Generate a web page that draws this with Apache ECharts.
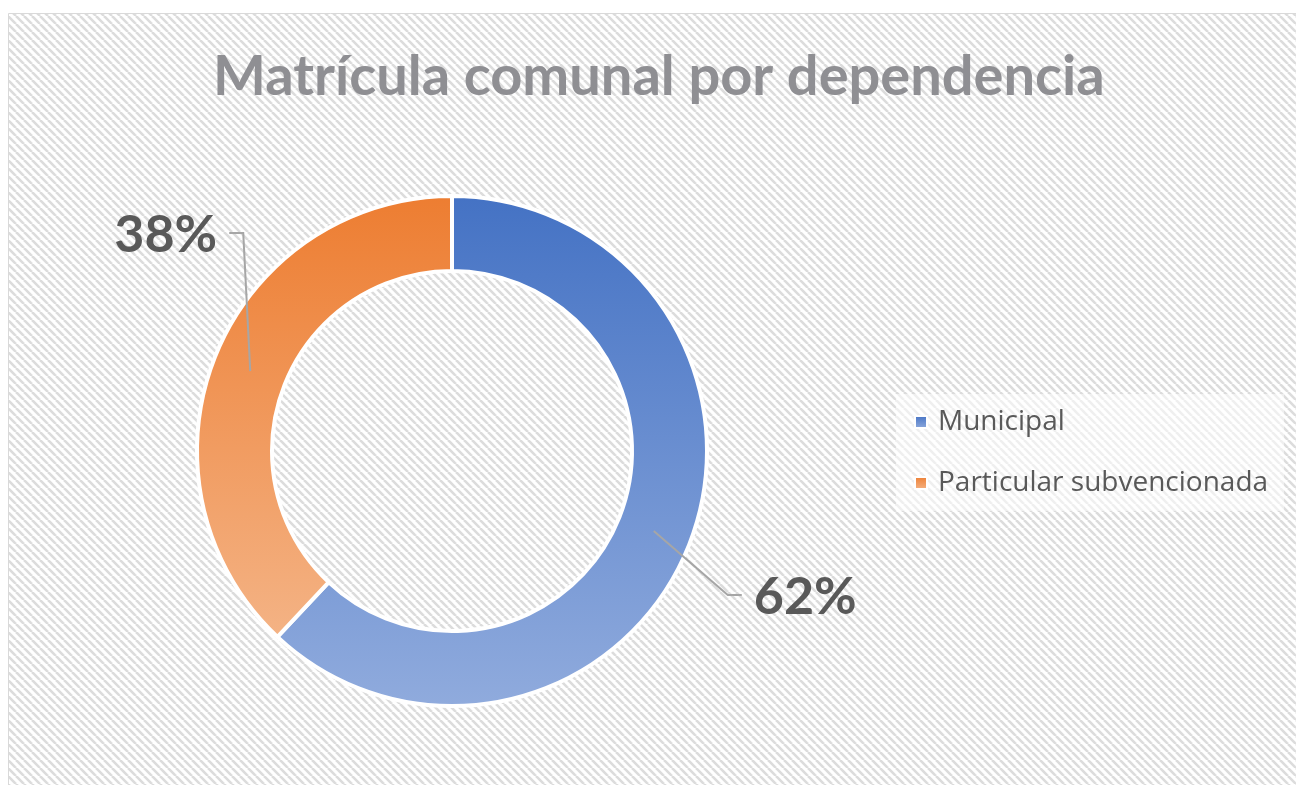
<!DOCTYPE html>
<html>
<head>
<meta charset="utf-8">
<script src="https://cdn.jsdelivr.net/npm/echarts@6/dist/echarts.min.js"></script>
<style>
  html, body { margin: 0; padding: 0; background: #fff; }
  #chart { width: 1296px; height: 785px; }
</style>
</head>
<body>
<div id="chart"></div>
<script>
var titleText = 'Matrícula comunal por dependencia';
var categories = ['Municipal', 'Particular subvencionada'];
var values = [62, 38];

// diagonal hatch used as the plot background
var tile = document.createElement('canvas');
tile.width = 8;
tile.height = 8;
var ctx = tile.getContext('2d');
ctx.fillStyle = '#ffffff';
ctx.fillRect(0, 0, 8, 8);
ctx.strokeStyle = '#dcdcdc';
ctx.lineWidth = 2.6;
[-8, 0, 8].forEach(function (k) {
  ctx.beginPath();
  ctx.moveTo(k, 0);
  ctx.lineTo(k + 8, 8);
  ctx.stroke();
});

var colors = [
  { type: 'linear', x: 0, y: 0, x2: 0, y2: 1, colorStops: [
    { offset: 0, color: '#4472c4' }, { offset: 1, color: '#90abdd' }] },
  { type: 'linear', x: 0, y: 0, x2: 0, y2: 1, colorStops: [
    { offset: 0, color: '#ed7d31' }, { offset: 1, color: '#f4b385' }] }
];

// where each label sits relative to the start of its leader line
var labelOffsets = [
  { elbow: [74, 64], end: 14, align: 'left' },
  { elbow: [-7, -138], end: -14, align: 'right' }
];

var myChart = echarts.init(document.getElementById('chart'));

var option = {
  animation: false,
  graphic: [{
    type: 'rect',
    z: -10,
    shape: { x: 8.5, y: 13.5, width: 1300, height: 800 },
    style: { fill: { image: tile, repeat: 'repeat' }, stroke: '#d9d9d9', lineWidth: 1 }
  }],
  title: {
    text: titleText,
    left: 208,
    top: 44,
    textStyle: {
      fontFamily: 'Lato',
      fontWeight: 'bold',
      fontSize: 56,
      color: '#8f8f93'
    }
  },
  legend: {
    orient: 'vertical',
    left: 896,
    top: 394,
    padding: [14, 16, 14, 18],
    backgroundColor: 'rgba(255,255,255,0.55)',
    itemWidth: 12,
    itemHeight: 12,
    itemGap: 33,
    icon: 'rect',
    selectedMode: false,
    data: categories,
    textStyle: { fontFamily: 'Open Sans', fontSize: 28, color: '#595959', padding: [0, 0, 0, 6] }
  },
  series: [{
    type: 'pie',
    center: [452, 451],
    radius: [180, 255],
    startAngle: 90,
    silent: true,
    label: { show: false },
    labelLine: { show: false },
    itemStyle: { borderColor: '#ffffff', borderWidth: 4 },
    data: categories.map(function (c, i) {
      return { name: c, value: values[i], itemStyle: { color: colors[i] } };
    })
  }, {
    // invisible ring through the middle of the donut, carrying the labels
    type: 'pie',
    z: 5,
    center: [452, 451],
    radius: [216, 217],
    startAngle: 90,
    silent: true,
    legendHoverLink: false,
    itemStyle: { color: 'transparent' },
    label: {
      show: true,
      position: 'outside',
      formatter: function (p) { return Math.round(p.percent) + '%'; },
      fontFamily: 'Lato',
      fontWeight: 'bold',
      fontSize: 52,
      color: '#595959'
    },
    labelLine: {
      show: true,
      length: 10,
      length2: 10,
      lineStyle: { color: '#a6a6a6', width: 2 }
    },
    labelLayout: function (params) {
      var o = labelOffsets[params.dataIndex];
      var p0 = params.labelLinePoints[0];
      var p1 = [p0[0] + o.elbow[0], p0[1] + o.elbow[1]];
      var p2 = [p1[0] + o.end, p1[1]];
      return {
        x: p2[0] + (o.align === 'left' ? 12 : -12),
        y: p2[1] + 2,
        align: o.align,
        verticalAlign: 'middle',
        labelLinePoints: [p0, p1, p2]
      };
    },
    data: categories.map(function (c, i) {
      return { name: c, value: values[i] };
    })
  }]
};

myChart.setOption(option);
</script>
</body>
</html>
